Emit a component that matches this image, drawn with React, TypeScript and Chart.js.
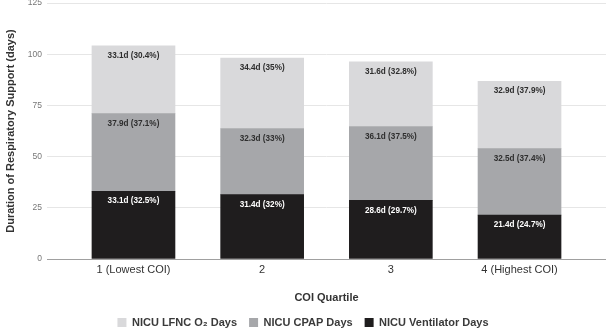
import React, { useEffect, useRef } from "react";
import { Chart, registerables } from "chart.js";

Chart.register(...registerables);

// COI quartile groups and days of respiratory support per modality
const quartiles = ["1 (Lowest COI)", "2", "3", "4 (Highest COI)"];
const ventilatorDays = [33.1, 31.4, 28.6, 21.4];
const cpapDays = [37.9, 32.3, 36.1, 32.5];
const lfncDays = [33.1, 34.4, 31.6, 32.9];
const ventilatorPct = ["32.5", "32", "29.7", "24.7"];
const cpapPct = ["37.1", "33", "37.5", "37.4"];
const lfncPct = ["30.4", "35", "32.8", "37.9"];
const yTicks = [0, 25, 50, 75, 100, 125];

const FONT = "'Liberation Sans', Arial, Helvetica, sans-serif";

const toPoints = (vals: number[]) => vals.map((y, i) => ({ x: i + 1, y }));

// value + share label near the top of every segment, in a condensed face
const segmentLabels = {
  id: "segmentLabels",
  afterDatasetsDraw(chart: any) {
    const ctx = chart.ctx;
    const squeeze = 0.86;
    chart.data.datasets.forEach((ds: any, di: number) => {
      const meta = chart.getDatasetMeta(di);
      meta.data.forEach((bar: any, i: number) => {
        const v = ds.data[i].y;
        ctx.save();
        ctx.translate(bar.x, bar.y + 9.5);
        ctx.scale(squeeze, 1);
        ctx.font = `bold 9.5px ${FONT}`;
        ctx.textAlign = "center";
        ctx.textBaseline = "middle";
        ctx.fillStyle = ds.labelColor;
        ctx.fillText(`${v}d (${ds.pct[i]}%)`, 0, 0);
        ctx.restore();
      });
    });
  },
};

export default function App() {
  const canvasRef = useRef<HTMLCanvasElement>(null);

  useEffect(() => {
    document.body.style.margin = "0";
    const chart = new Chart(canvasRef.current!, {
      type: "bar",
      data: {
        datasets: [
          {
            label: "NICU Ventilator Days",
            data: toPoints(ventilatorDays),
            backgroundColor: "#1f1d1e",
            pct: ventilatorPct,
            labelColor: "#ffffff",
          } as any,
          {
            label: "NICU CPAP Days",
            data: toPoints(cpapDays),
            backgroundColor: "#a6a7aa",
            pct: cpapPct,
            labelColor: "#2e2e2e",
          } as any,
          {
            label: "NICU LFNC O\u2082 Days",
            data: toPoints(lfncDays),
            backgroundColor: "#d9d9db",
            pct: lfncPct,
            labelColor: "#2e2e2e",
          } as any,
        ],
      },
      options: {
        animation: false,
        responsive: true,
        maintainAspectRatio: false,
        barThickness: 83,
        borderWidth: 0,
        layout: { padding: 0 },
        scales: {
          x: {
            type: "linear",
            stacked: true,
            offset: false,
            min: 0.328,
            max: 4.672,
            afterBuildTicks: (s: any) => {
              s.ticks = quartiles.map((_, i) => ({ value: i + 1 }));
            },
            afterFit: (s: any) => {
              s.height = 46;
            },
            ticks: {
              callback: (v: any) => quartiles[Number(v) - 1] ?? "",
              autoSkip: false,
              maxRotation: 0,
              padding: 4,
              color: "#333333",
              font: { family: FONT, size: 11 },
            },
            grid: { display: false, drawTicks: false },
            border: { display: true, color: "#a0a0a0", width: 1 },
            title: {
              display: true,
              text: "COI Quartile",
              color: "#333333",
              padding: { top: 0, bottom: 0 },
              font: { family: FONT, size: 11, weight: "bold" },
            },
          },
          y: {
            stacked: true,
            min: 0,
            max: 125,
            afterBuildTicks: (s: any) => {
              s.ticks = yTicks.map((value) => ({ value }));
            },
            afterFit: (s: any) => {
              s.width = 47;
              s.paddingTop = 3;
            },
            ticks: {
              padding: 5,
              color: "#777777",
              font: { family: FONT, size: 8.5 },
            },
            grid: { color: "#e6e6e6", drawTicks: false, lineWidth: 1 },
            border: { display: false },
            title: {
              display: true,
              text: "Duration of Respiratory Support (days)",
              color: "#333333",
              padding: { top: 4, bottom: 4 },
              font: { family: FONT, size: 11, weight: "bold" },
            },
          },
        },
        plugins: {
          legend: {
            position: "bottom",
            reverse: true,
            maxHeight: 26,
            labels: {
              boxWidth: 9,
              boxHeight: 9,
              padding: 12,
              color: "#3a3a3a",
              font: { family: FONT, size: 11, weight: "bold" },
            },
          },
          tooltip: { enabled: false },
        },
      } as any,
      plugins: [segmentLabels],
    });
    return () => chart.destroy();
  }, []);

  return (
    <div style={{ position: "relative", width: 606, height: 331 }}>
      <canvas ref={canvasRef} />
    </div>
  );
}
